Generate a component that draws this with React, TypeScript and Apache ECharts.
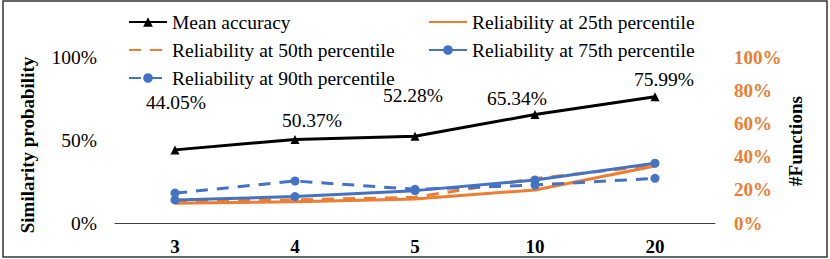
import React, { useEffect, useRef } from "react";
import * as echarts from "echarts";

const categories = ["3", "4", "5", "10", "20"];
const meanAccuracy = [44.05, 50.37, 52.28, 65.34, 75.99];
const rel25 = [11.9, 12.8, 14.5, 19.9, 34.3];
const rel50 = [12.8, 13.9, 15.5, 26.8, 34.8];
const rel75 = [13.9, 15.9, 19.5, 25.9, 36.0];
const rel90 = [18.0, 25.3, 20.3, 22.9, 26.9];
const leftTicks = [0, 50, 100];
const rightTicks = [0, 20, 40, 60, 80, 100];
const labelOffsets = [[1, -47], [17, -19], [-2, -41], [-18, -16], [9, -17]];

const FONT = "Liberation Serif, serif";
const ORANGE = "#ED7D31";
const BLUE = "#4472C4";

export default function App() {
  const ref = useRef<HTMLDivElement>(null);
  useEffect(() => {
    if (!ref.current) return;
    const chart = echarts.init(ref.current, undefined, { renderer: "svg" });
    const lineBase = { type: "line", symbolKeepAspect: true } as any;
    const legendText = { fontFamily: FONT, fontSize: 19.5, color: "#000", lineHeight: 20 };
    chart.setOption({
      animation: false,
      textStyle: { fontFamily: FONT },
      grid: { left: 115, right: 115, top: 57, bottom: 36 },
      legend: [
        {
          data: [
            { name: "Mean accuracy" },
            { name: "Reliability at 50th percentile", itemStyle: { opacity: 0 } },
            { name: "Reliability at 90th percentile" },
          ],
          orient: "vertical",
          left: 123,
          top: 7,
          itemWidth: 38,
          itemHeight: 12,
          itemGap: 8,
          textStyle: legendText,
        },
        {
          data: [
            { name: "Reliability at 25th percentile", itemStyle: { opacity: 0 } },
            { name: "Reliability at 75th percentile" },
          ],
          orient: "vertical",
          left: 423,
          top: 7,
          itemWidth: 38,
          itemHeight: 12,
          itemGap: 8,
          textStyle: legendText,
        },
      ],
      xAxis: {
        type: "category",
        data: categories,
        boundaryGap: true,
        axisLine: { lineStyle: { color: "#404040", width: 1 } },
        axisTick: { show: false },
        axisLabel: { fontFamily: FONT, fontSize: 19, fontWeight: "bold", color: "#000", margin: 14 },
      },
      yAxis: [
        {
          type: "value",
          min: leftTicks[0],
          max: leftTicks[leftTicks.length - 1],
          interval: 50,
          splitLine: { show: false },
          axisLine: { show: false },
          axisTick: { show: false },
          axisLabel: { fontFamily: FONT, fontSize: 19.5, color: "#000", margin: 18, formatter: "{value}%" },
        },
        {
          type: "value",
          min: rightTicks[0],
          max: rightTicks[rightTicks.length - 1],
          interval: 20,
          splitLine: { show: false },
          axisLine: { show: false },
          axisTick: { show: false },
          axisLabel: { fontFamily: FONT, fontSize: 19, fontWeight: "bold", color: ORANGE, margin: 19, formatter: "{value}%" },
        },
      ],
      graphic: [
        {
          type: "rect",
          shape: { x: 3, y: 1, width: 824, height: 256 },
          style: { fill: "none", stroke: "#333", lineWidth: 1.5 },
          silent: true,
        },
        {
          type: "text",
          x: 27,
          y: 145,
          rotation: Math.PI / 2,
          style: { text: "Similarity probability", fontFamily: FONT, fontSize: 19, fontWeight: "bold", fill: "#000", align: "center", verticalAlign: "middle" },
        },
        {
          type: "text",
          x: 795,
          y: 141,
          rotation: Math.PI / 2,
          style: { text: "#Functions", fontFamily: FONT, fontSize: 19, fontWeight: "bold", fill: "#000", align: "center", verticalAlign: "middle" },
        },
      ],
      series: [
        {
          ...lineBase,
          name: "Reliability at 25th percentile",
          yAxisIndex: 1,
          data: rel25,
          symbol: "none",
          lineStyle: { color: ORANGE, width: 3 },
          itemStyle: { color: ORANGE },
        },
        {
          ...lineBase,
          name: "Reliability at 50th percentile",
          yAxisIndex: 1,
          data: rel50,
          symbol: "none",
          lineStyle: { color: ORANGE, width: 3, type: [12, 9] },
          itemStyle: { color: ORANGE },
        },
        {
          ...lineBase,
          name: "Reliability at 75th percentile",
          yAxisIndex: 1,
          data: rel75,
          symbol: "circle",
          symbolSize: 9,
          lineStyle: { color: BLUE, width: 3 },
          itemStyle: { color: BLUE },
        },
        {
          ...lineBase,
          name: "Reliability at 90th percentile",
          yAxisIndex: 1,
          data: rel90,
          symbol: "circle",
          symbolSize: 9,
          lineStyle: { color: BLUE, width: 3, type: [12, 9] },
          itemStyle: { color: BLUE },
        },
        {
          ...lineBase,
          name: "Mean accuracy",
          yAxisIndex: 0,
          data: meanAccuracy.map((v, i) => ({
            value: v,
            label: { offset: labelOffsets[i] },
          })),
          symbol: "triangle",
          symbolSize: 9,
          lineStyle: { color: "#000", width: 3 },
          itemStyle: { color: "#000" },
          label: {
            show: true,
            position: "inside",
            align: "center",
            verticalAlign: "middle",
            fontFamily: FONT,
            fontSize: 19.5,
            color: "#000",
            formatter: (p: any) => p.value.toFixed(2) + "%",
          },
        },
      ],
    });
    return () => chart.dispose();
  }, []);
  return <div ref={ref} style={{ position: "absolute", left: 0, top: 0, width: 830, height: 259 }} />;
}
